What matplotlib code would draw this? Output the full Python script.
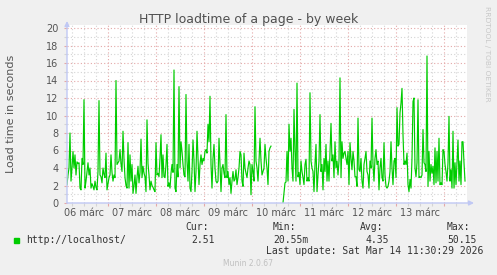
import datetime as dt
import numpy as np
import matplotlib
matplotlib.use("Agg")
import matplotlib.pyplot as plt
import matplotlib.dates as mdates
import matplotlib.transforms as mtransforms

nan = np.nan

# half-hour samples starting 2026-03-06 03:30
start = dt.datetime(2026, 3, 6, 3, 30)
view_end = dt.datetime(2026, 3, 14, 11, 30)
step = dt.timedelta(minutes=30)

load_part1 = [2.1, 3.2, 4.0, 8.0, 2.5, 4.0, 5.9, 4.0, 5.5, 3.2, 4.7, 4.5, 4.6, 1.7, 1.5,
              5.1, 4.4, 11.8, 1.7, 2.5, 3.6, 4.6, 3.2, 4.0, 1.7, 2.2, 1.9, 1.5, 2.5, 1.8,
              1.5, 3.6, 11.7, 3.2, 3.0, 2.3, 4.0, 3.3, 2.9, 5.7, 1.5, 2.2, 2.9, 3.2, 5.5,
              3.5, 2.5, 3.2, 2.9, 14.0, 4.4, 4.6, 4.8, 6.1, 4.5, 3.6, 8.2]
load_part2 = [5.0, 2.9, 2.0, 1.7, 6.9, 1.7, 5.5, 2.5, 4.4, 1.1, 2.0, 3.2, 1.1, 2.9, 4.2,
              2.3, 3.5, 7.3, 2.9, 4.2, 3.4, 3.0, 1.3, 9.5, 4.5, 3.2, 1.5, 2.5, 2.0, 1.8,
              1.5, 1.3, 6.9, 3.2, 3.4, 3.0, 5.1, 7.8, 2.9, 5.5, 3.0, 2.9, 4.4, 6.7, 1.9,
              2.3, 1.7, 3.4, 4.4, 3.5, 15.2, 1.7, 1.3, 4.4, 3.0, 13.3, 4.0, 7.0]
load_part3 = [5.9, 4.4, 3.2, 3.0, 12.4, 4.8, 2.5, 6.7, 1.7, 1.3, 3.6, 7.2, 4.8, 1.3, 3.6,
              8.2, 5.1, 2.1, 4.4, 5.5, 4.4, 5.1, 4.8, 5.9, 6.1, 5.7, 9.0, 7.0, 12.2, 4.4,
              1.7, 5.1, 6.7, 4.0, 2.5, 2.3, 2.5, 7.4, 4.4, 1.3, 4.0, 4.4, 3.4, 2.9, 10.1,
              2.9, 3.6, 2.1, 2.9, 1.1, 2.5, 3.6, 2.5, 2.7, 3.8, 2.1, 2.9, 4.0]
load_part4 = [5.9, 5.5, 2.5, 1.9, 5.7, 4.0, 3.4, 2.9, 4.0, 4.8, 4.4, 0.95, 4.4, 3.6, 2.5,
              11.0, 4.8, 4.0, 2.5, 4.8, 7.4, 4.8, 3.2, 3.6, 4.0, 6.7, 5.1, 4.0, 2.1, 5.9,
              6.3, 6.5, nan, nan, nan, nan, nan, nan, nan, nan, nan, nan, nan, 0.02,
              1.1, 2.3, 2.4, 5.9, 2.5, 9.0, 5.9, 7.4, 4.0, 2.5, 10.7, 5.9, 2.5, 13.7]
load_part5 = [3.0, 3.5, 2.1, 4.8, 3.6, 2.9, 2.1, 4.4, 5.0, 2.5, 2.9, 2.5, 12.6, 4.8, 4.0,
              3.6, 1.3, 4.4, 6.7, 1.3, 3.2, 4.8, 10.1, 3.6, 4.4, 1.5, 5.1, 3.6, 6.7, 2.5,
              4.8, 2.5, 5.9, 9.1, 4.8, 5.5, 2.9, 7.0, 4.0, 4.8, 3.2, 4.8, 14.3, 2.9, 7.0,
              5.1, 5.7, 5.9, 5.1, 4.4, 5.9, 2.1, 6.9, 5.1, 3.8, 5.9, 4.8]
load_part6 = [3.0, 3.0, 1.9, 9.7, 3.8, 3.6, 5.1, 2.5, 1.7, 4.4, 5.1, 5.9, 3.6, 3.2, 1.7,
              4.8, 4.0, 9.7, 4.4, 2.5, 5.1, 6.1, 4.4, 4.8, 1.5, 4.0, 5.1, 2.9, 2.5, 6.9,
              3.2, 1.9, 1.7, 1.9, 2.5, 3.6, 7.0, 4.0, 2.1, 4.8, 5.1, 2.9, 10.9, 6.5, 6.7,
              10.3, 11.4, 13.1, 7.8, 4.4, 4.8, 4.4, 5.7, 2.1, 1.3, 2.7, 1.7, 5.1, 11.6]
load_part7 = [12.0, 4.0, 3.0, 4.6, 11.8, 2.9, 3.0, 2.9, 3.2, 8.4, 4.6, 4.4, 3.6, 16.8, 1.9,
              5.9, 2.5, 4.4, 3.4, 4.2, 2.1, 6.3, 2.3, 5.9, 2.5, 7.4, 2.1, 2.3, 2.1, 6.1,
              5.9, 4.4, 3.6, 2.5, 4.6, 9.9, 2.5, 3.8, 1.7, 8.2, 1.7, 4.6, 2.1, 4.8, 7.2,
              2.5, 4.8, 2.1, 7.0, 7.0, 4.6, 2.51]

load = (load_part1 + load_part2 + load_part3 + load_part4 + load_part5
        + load_part6 + load_part7)
times = [start + i * step for i in range(len(load))]

series_label = "http://localhost/"
stat_names = ["Cur:", "Min:", "Avg:", "Max:"]
stat_values = ["2.51", "20.55m", "4.35", "50.15"]
last_update = "Last update: Sat Mar 14 11:30:29 2026"

W, H = 497, 275
bg = "#f0f0f0"
green = "#00cc00"
major_grid = "#e4a8a8"
minor_grid = "#d4d4d4"
axis_col = "#c0c8f4"


def fx(px):
    return px / W


def fy(py):
    return 1 - py / H


fig = plt.figure(figsize=(W / 100, H / 100), dpi=100, facecolor=bg)
ax = fig.add_axes([fx(67), fy(203), fx(400), (203 - 25) / H])
ax.set_facecolor("white")

ax.plot(times, load, color=green, lw=0.85, zorder=3)

ax.set_xlim(view_end - dt.timedelta(hours=200), view_end)
ax.set_ylim(0, 178 / 8.75)

# grid
days = [dt.datetime(2026, 3, d) for d in range(7, 15)]
ax.set_xticks(days)
ax.xaxis.set_minor_locator(mdates.HourLocator(byhour=[6, 12, 18]))
ax.set_yticks(np.arange(0, 21, 2))
ax.set_yticks(np.arange(1, 20, 2), minor=True)
ax.grid(which="major", color=major_grid, ls=(0, (1, 2)), lw=0.8, zorder=1)
ax.grid(which="minor", color=minor_grid, ls=(0, (1, 2)), lw=0.8, zorder=0)
ax.tick_params(which="major", length=2, width=0.8, color=major_grid,
               labelsize=7, labelcolor="#555555", pad=4)
ax.tick_params(which="minor", length=2, width=0.8, color=minor_grid)
ax.set_xticklabels([])
ax.set_yticklabels([str(v) for v in range(0, 21, 2)])
for s in ax.spines.values():
    s.set_visible(False)

# axes with arrows
ax.annotate("", xy=(1 + 7 / 400, 0), xytext=(0, 0), xycoords="axes fraction",
            arrowprops=dict(arrowstyle="-|>", color=axis_col, lw=1, mutation_scale=7,
                            shrinkA=0, shrinkB=0), annotation_clip=False, zorder=4)
ax.annotate("", xy=(0, 1 + 4 / 178), xytext=(0, 0), xycoords="axes fraction",
            arrowprops=dict(arrowstyle="-|>", color=axis_col, lw=1, mutation_scale=7,
                            shrinkA=0, shrinkB=0), annotation_clip=False, zorder=4)

# day labels at noon
trans = mtransforms.blended_transform_factory(ax.transData, ax.transAxes)
trans = mtransforms.offset_copy(trans, fig=fig, y=-9.5 * 0.72, units="points")
for d in range(6, 14):
    noon = dt.datetime(2026, 3, d, 12)
    ax.text(noon, 0, f"{d:02d} márc", transform=trans, ha="center", va="center",
            fontsize=7, color="#555555")

fig.text(fx(248.5), fy(19), "HTTP loadtime of a page - by week", ha="center",
         va="center", fontsize=9, color="#505050")
fig.text(fx(11), fy(114), "Load time in seconds", rotation=90, ha="center",
         va="center", fontsize=8, color="#555555")
fig.text(fx(487.5), fy(53.5), "RRDTOOL / TOBI OETIKER", rotation=270, ha="center",
         va="center", fontsize=5.4, color="#c8c8c8")

# legend
mono = "DejaVu Sans Mono"
fig.patches.append(plt.Rectangle((fx(14), fy(243)), fx(5.3), 5.3 / H, color=green,
                                 transform=fig.transFigure))
fig.text(fx(26.5), fy(240), series_label, family=mono, fontsize=7, color="#333333",
         va="center")
for name, val, xn, xv in zip(stat_names, stat_values, [185, 273, 360, 447],
                             [191, 273, 366, 447]):
    fig.text(fx(xn), fy(227.5), name, family=mono, fontsize=7, color="#333333",
             va="center")
    fig.text(fx(xv), fy(240), val, family=mono, fontsize=7, color="#333333",
             va="center")
fig.text(fx(483), fy(251.5), last_update, family=mono, fontsize=7, color="#333333",
         va="center", ha="right")
fig.text(fx(248), fy(263.5), "Munin 2.0.67", fontsize=5.5, color="#c0c0c0",
         va="center", ha="center")

fig.savefig("out.png", dpi=100, facecolor=bg)
